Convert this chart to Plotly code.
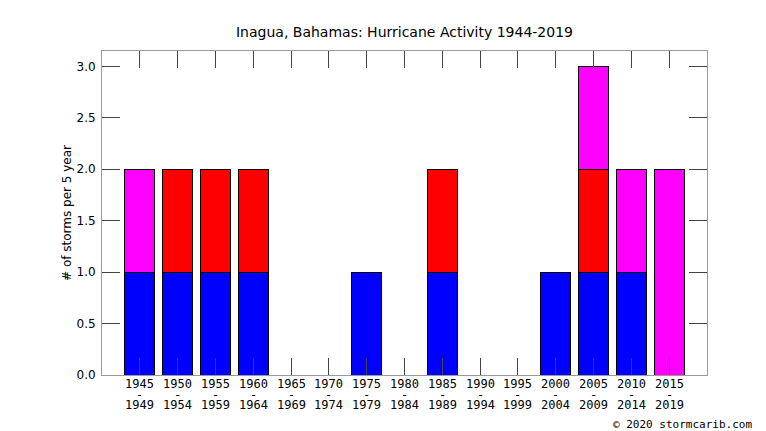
import plotly.graph_objects as go

# 5-year periods
start_years = [1945, 1950, 1955, 1960, 1965, 1970, 1975, 1980, 1985, 1990, 1995, 2000, 2005, 2010, 2015]
end_years = [1949, 1954, 1959, 1964, 1969, 1974, 1979, 1984, 1989, 1994, 1999, 2004, 2009, 2014, 2019]

# storms per period, stacked bottom to top
blue_counts = [1, 1, 1, 1, 0, 0, 1, 0, 1, 0, 0, 1, 1, 1, 0]
red_counts = [0, 1, 1, 1, 0, 0, 0, 0, 1, 0, 0, 0, 1, 0, 0]
magenta_counts = [1, 0, 0, 0, 0, 0, 0, 0, 0, 0, 0, 0, 1, 1, 2]

y_ticks = [0.0, 0.5, 1.0, 1.5, 2.0, 2.5, 3.0]

pos = list(range(len(start_years)))


def nz(vals):
    # skip empty segments so no outline is drawn for them
    return [v if v else None for v in vals]


fig = go.Figure()
for vals, col in [(blue_counts, '#0000ff'), (red_counts, '#ff0000'), (magenta_counts, '#ff00ff')]:
    fig.add_trace(go.Bar(
        x=pos, y=nz(vals), width=0.8,
        marker=dict(color=col, line=dict(color='#000000', width=1)),
        showlegend=False, hoverinfo='y'
    ))

# three-row period labels under each bar: start, "-", end
mono = dict(family='DejaVu Sans Mono', size=12, color='#000')
annots = []
for p, sy, ey in zip(pos, start_years, end_years):
    for txt, dy in [(str(sy), -9), ('-', -20), (str(ey), -30)]:
        annots.append(dict(x=p, y=0, xref='x', yref='paper', text=txt, showarrow=False,
                           yanchor='middle', yshift=dy, font=mono))

annots.append(dict(x=1, y=0, xref='paper', yref='paper', xanchor='right', yanchor='middle',
                   xshift=47, yshift=-49, text='© 2020 stormcarib.com', showarrow=False,
                   font=dict(family='DejaVu Sans Mono', size=11, color='#000')))

fig.update_layout(
    width=766, height=431,
    barmode='stack',
    title=dict(text='Inagua, Bahamas: Hurricane Activity 1944-2019', xref='paper', x=0.5,
               xanchor='center', y=0.944, yanchor='middle',
               font=dict(family='DejaVu Sans', size=14, color='#000')),
    plot_bgcolor='white', paper_bgcolor='white',
    margin=dict(l=94, r=67, t=43, b=64),
    annotations=annots,
    xaxis=dict(
        range=[-1, 15], tickvals=pos, showticklabels=False,
        ticks='inside', ticklen=17, tickcolor='#444', tickwidth=1,
        showline=True, linecolor='#999', linewidth=1, mirror='allticks',
        showgrid=False, zeroline=False
    ),
    yaxis=dict(
        range=[0, 3.15], tickvals=y_ticks, ticktext=[f'{v:.1f}' for v in y_ticks],
        ticks='inside', ticklen=18, tickcolor='#444', tickwidth=1,
        showline=True, linecolor='#999', linewidth=1, mirror='allticks',
        showgrid=False, zeroline=False, ticklabelstandoff=3,
        title=dict(text='# of storms per 5 year', standoff=2,
                   font=dict(family='DejaVu Sans', size=12, color='#000')),
        tickfont=dict(family='DejaVu Sans', size=12, color='#000')
    ),
)

fig.write_html("out.html")
